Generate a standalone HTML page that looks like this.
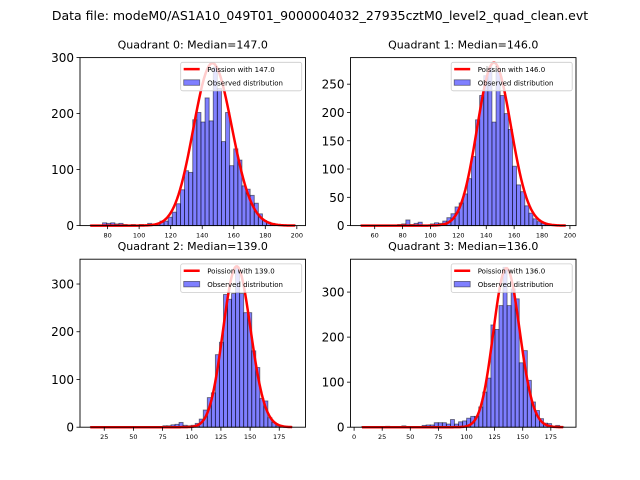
<!DOCTYPE html>
<html><head><meta charset="utf-8"><style>
html,body{margin:0;padding:0;background:#fff;}
svg{display:block;font-family:"DejaVu Sans","Liberation Sans",sans-serif;}
</style></head><body>
<svg id="chart" width="640" height="480" viewBox="0 0 640 480">
<text x="320" y="20" font-size="12.5" text-anchor="middle">Data file: modeM0/AS1A10_049T01_9000004032_27935cztM0_level2_quad_clean.evt</text>
</svg>
<script>
const medians = [147.0, 146.0, 139.0, 136.0];
const binStart = [69, 50, 13, 6.5];
const binWidth = [2.6, 2.94, 3.46, 3.6];
const counts0 = [1,0,1,5,4,5,3,4,2,1, 2,1,2,1,4,2,3,8,8,15, 24,39,64,98,95,189,202,185,228,187, 283,245,150,202,107,137,117,71,65,54, 40,21,9,6,4,2,1,1,0,1];
const counts1 = [1,0,0,0,0,0,0,0,1,2, 3,10,2,4,6,1,0,3,5,4, 8,14,21,33,40,56,83,122,187,230, 265,280,183,272,230,198,170,105,72,60, 35,22,12,7,4,2,1,0,0,0];
const counts2 = [1,0,0,0,0,0,0,0,0,0, 0,0,0,1,0,0,1,0,3,3, 5,6,10,4,3,4,8,17,36,62, 72,152,178,278,268,280,333,280,240,240, 160,125,60,55,20,10,3,1,1,1];
const counts3 = [1,0,0,0,0,0,2,0,0,0, 3,0,0,0,1,4,5,5,10,10, 10,7,17,7,12,14,20,24,24,45, 78,109,227,217,270,355,270,307,285,143, 170,104,56,37,19,9,8,1,4,1];
const curvePeak = [290, 288, 337, 353];
const xTicks = [[80,100,120,140,160,180,200],[60,80,100,120,140,160,180,200],[25,50,75,100,125,150,175],[0,25,50,75,100,125,150,175]];
const yTicks = [[0,100,200,300],[0,50,100,150,200,250],[0,100,200,300],[0,100,200,300]];
const xLims = [[62.5,205.5],[42.65,204.35],[4.2,197.5],[-3.2,197.4]];
const yLims = [[0,300],[0,297],[0,352],[0,373]];

const allCounts = [counts0, counts1, counts2, counts3];
const NS = "http://www.w3.org/2000/svg";
const svg = document.getElementById('chart');
function mk(tag, attrs, parent){const e=document.createElementNS(NS,tag);for(const k in attrs)e.setAttribute(k,attrs[k]);(parent||svg).appendChild(e);return e;}
function lgamma(z){const g=7,c=[0.99999999999980993,676.5203681218851,-1259.1392167224028,771.32342877765313,-176.61502916214059,12.507343278686905,-0.13857109526572012,9.9843695780195716e-6,1.5056327351493116e-7];z-=1;let x=c[0];for(let i=1;i<g+2;i++)x+=c[i]/(z+i);const t=z+g+0.5;return 0.5*Math.log(2*Math.PI)+(z+0.5)*Math.log(t)-t+Math.log(x);}
function logPois(k,mu){return k*Math.log(mu)-mu-lgamma(k+1);}

const boxes = [[80,57.6],[350.5,57.6],[80,259.2],[350.5,259.2]];
const W = 225.5, H = 168;
for (let q=0;q<4;q++){
  const [L,T] = boxes[q];
  const xs = v => L + (v - xLims[q][0]) / (xLims[q][1]-xLims[q][0]) * W;
  const ys = v => T + H - (v - yLims[q][0]) / (yLims[q][1]-yLims[q][0]) * H;
  const g = mk('g',{});
  
  
  const title = mk('text',{x:L+W/2,y:T-9,'font-size':'11','text-anchor':'middle'},g);
  title.textContent = 'Quadrant ' + q + ': Median=' + medians[q].toFixed(1);
  
  
  const data = allCounts[q];
  for (let i=0;i<data.length;i++){
    const x0 = binStart[q] + i*binWidth[q];
    const x1 = x0 + binWidth[q];
    const r = mk('rect',{x:xs(x0),y:ys(data[i]),width:xs(x1)-xs(x0),height:ys(0)-ys(data[i]),fill:'rgba(0,0,255,0.5)',stroke:'rgba(0,0,0,0.5)','stroke-width':'0.9'},g);
    
    
  }
  const mu = medians[q];
  const ref = logPois(Math.round(mu), mu);
  const kmin = Math.ceil(binStart[q]);
  const kmax = Math.floor(binStart[q] + binWidth[q]*data.length);
  let pts = [];
  for (let k=kmin;k<=kmax;k++){
    const v = curvePeak[q] * Math.exp(logPois(k,mu) - ref);
    pts.push(xs(k).toFixed(2)+','+ys(v).toFixed(2));
  }
  const line = mk('polyline',{points:pts.join(' '),fill:'none',stroke:'#ff0000','stroke-width':'2.5','stroke-linejoin':'round'},g);
  
  
  const frame = mk('rect',{x:L,y:T,width:W,height:H,fill:'none',stroke:'#000','stroke-width':'0.9'},g);
  
  
  for (const t of xTicks[q]){
    const x = xs(t);
    mk('line',{x1:x,y1:T+H,x2:x,y2:T+H+3.5,stroke:'#000','stroke-width':'0.8'},g);
    const tl = mk('text',{x:x,y:T+H+12,'font-size':'6.5','text-anchor':'middle'},g);
    tl.textContent = t;
    
    
  }
  for (const t of yTicks[q]){
    const y = ys(t);
    mk('line',{x1:L,y1:y,x2:L-3.5,y2:y,stroke:'#000','stroke-width':'0.8'},g);
    const tl = mk('text',{x:L-6,y:y+4.5,'font-size':'12','text-anchor':'end'},g);
    tl.textContent = t;
    
    
  }
  const lx = L + 100.7, ly = T + 4.7;
  const lg = mk('g',{},g);
  
  
  mk('rect',{x:lx,y:ly,width:121,height:28.5,rx:2,fill:'rgba(255,255,255,0.8)',stroke:'#cccccc','stroke-width':'0.8'},lg);
  mk('line',{x1:lx+3,y1:ly+6.8,x2:lx+19,y2:ly+6.8,stroke:'#ff0000','stroke-width':'2.5'},lg);
  const t1 = mk('text',{x:lx+26.5,y:ly+9.5,'font-size':'7'},lg);
  t1.textContent = 'Poission with ' + mu.toFixed(1);
  
  
  mk('rect',{x:lx+3,y:ly+17.5,width:16,height:5.5,fill:'rgba(0,0,255,0.5)',stroke:'rgba(0,0,0,0.5)','stroke-width':'0.8'},lg);
  const t2 = mk('text',{x:lx+26.5,y:ly+23,'font-size':'7'},lg);
  t2.textContent = 'Observed distribution';
  
  
}
</script>
</body></html>
